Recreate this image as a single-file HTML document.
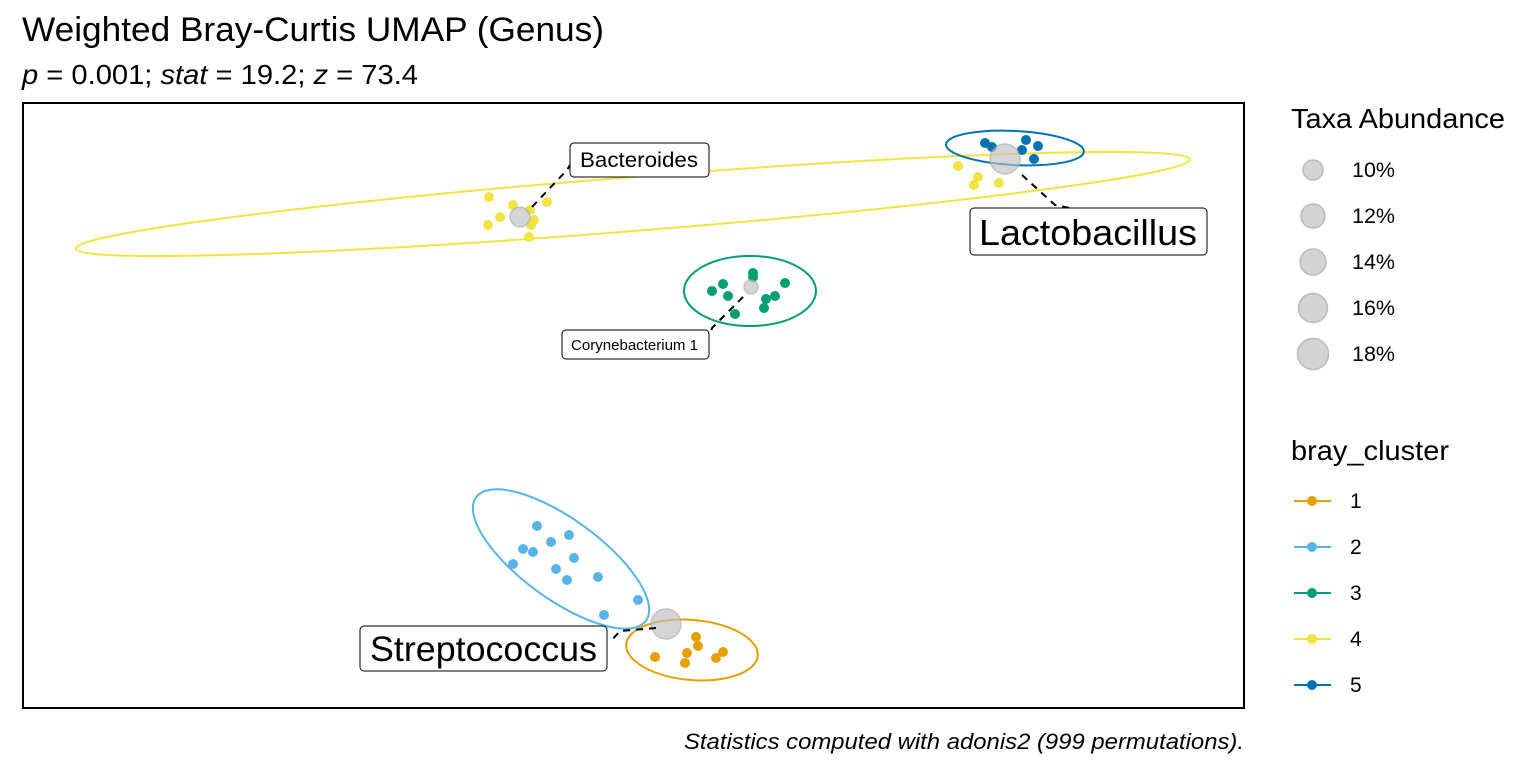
<!DOCTYPE html>
<html><head><meta charset="utf-8"><style>body{margin:0;background:#fff}svg{display:block}text{font-family:"Liberation Sans",Arial,sans-serif}</style></head>
<body>
<svg width="1536" height="768" viewBox="0 0 1536 768" xmlns="http://www.w3.org/2000/svg">
<text x="22" y="41" font-size="34" textLength="582" lengthAdjust="spacingAndGlyphs">Weighted Bray-Curtis UMAP (Genus)</text>
<text x="22" y="84" font-size="28" textLength="396" lengthAdjust="spacingAndGlyphs"><tspan font-style="italic">p</tspan> = 0.001; <tspan font-style="italic">stat</tspan> = 19.2; <tspan font-style="italic">z</tspan> = 73.4</text>
<rect x="23" y="103" width="1221" height="605" fill="#fff" stroke="#000" stroke-width="2"/>
<g fill="none" stroke-width="2">
<ellipse cx="633" cy="204" rx="559" ry="27" transform="rotate(-4.57 633 204)" stroke="#F0E442"/>
<ellipse cx="1015" cy="148" rx="69" ry="17" transform="rotate(3 1015 148)" stroke="#0072B2"/>
<ellipse cx="750" cy="291" rx="66" ry="35" stroke="#009E73"/>
<ellipse cx="561" cy="559" rx="105" ry="40" transform="rotate(36 561 559)" stroke="#56B4E9"/>
<ellipse cx="692" cy="650" rx="66" ry="30" transform="rotate(5 692 650)" stroke="#E69F00"/>
</g>
<g fill="#F0E442">
<circle cx="489" cy="197" r="5"/><circle cx="500" cy="217" r="5"/><circle cx="488" cy="225" r="5"/><circle cx="513" cy="205" r="5"/><circle cx="530" cy="210" r="5"/><circle cx="534" cy="220" r="5"/><circle cx="529" cy="237" r="5"/><circle cx="547" cy="202" r="5"/><circle cx="531" cy="225" r="5"/>
<circle cx="958" cy="166" r="5"/><circle cx="978" cy="177" r="5"/><circle cx="974" cy="185" r="5"/><circle cx="999" cy="183" r="5"/>
</g>
<g fill="#009E73">
<circle cx="712" cy="291" r="5"/><circle cx="723" cy="284" r="5"/><circle cx="728" cy="296" r="5"/><circle cx="735" cy="314" r="5"/><circle cx="753" cy="273" r="5"/><circle cx="753" cy="277" r="5"/><circle cx="785" cy="283" r="5"/><circle cx="775" cy="296" r="5"/><circle cx="766" cy="299" r="5"/><circle cx="764" cy="308" r="5"/>
</g>
<g fill="#0072B2">
<circle cx="985" cy="143" r="5"/><circle cx="992" cy="147" r="5"/><circle cx="1026" cy="140" r="5"/><circle cx="1038" cy="146" r="5"/><circle cx="1022" cy="150" r="5"/><circle cx="1034" cy="159" r="5"/>
</g>
<g fill="#56B4E9">
<circle cx="537" cy="526" r="5"/><circle cx="569" cy="535" r="5"/><circle cx="551" cy="542" r="5"/><circle cx="523" cy="549" r="5"/><circle cx="533" cy="552" r="5"/><circle cx="574" cy="558" r="5"/><circle cx="513" cy="564" r="5"/><circle cx="556" cy="569" r="5"/><circle cx="567" cy="580" r="5"/><circle cx="598" cy="577" r="5"/><circle cx="638" cy="600" r="5"/><circle cx="604" cy="615" r="5"/>
</g>
<g fill="#E69F00">
<circle cx="696" cy="637" r="5"/><circle cx="698" cy="646" r="5"/><circle cx="687" cy="653" r="5"/><circle cx="655" cy="657" r="5"/><circle cx="685" cy="663" r="5"/><circle cx="723" cy="652" r="5"/><circle cx="716" cy="658" r="5"/>
</g>
<g fill="#bfbfbf" fill-opacity="0.65" stroke="#aaa" stroke-opacity="0.6" stroke-width="1.5">
<circle cx="520" cy="217" r="10"/><circle cx="751" cy="287" r="7"/><circle cx="1005" cy="159" r="15"/><circle cx="666" cy="624" r="15"/>
</g>
<g stroke="#000" stroke-width="2" fill="none" stroke-dasharray="7,6">
<path d="M532 207 L567 170 L570 165"/>
<path d="M743 297 L712 328 L710 335"/>
<path d="M1022 175 L1055 205 L1070 208"/>
<path d="M656 628 L620 631 L610 642"/>
</g>
<g fill="#fff" stroke="#000" stroke-width="1">
<rect x="570" y="143" width="139" height="34" rx="4"/>
<rect x="970" y="208" width="237" height="47" rx="4"/>
<rect x="562" y="330" width="147" height="29" rx="4"/>
<rect x="360" y="626" width="247" height="45" rx="4"/>
</g>
<text x="580" y="167" font-size="21" textLength="118" lengthAdjust="spacingAndGlyphs">Bacteroides</text>
<text x="979" y="245" font-size="36" textLength="218" lengthAdjust="spacingAndGlyphs">Lactobacillus</text>
<text x="571" y="350" font-size="15" textLength="127" lengthAdjust="spacingAndGlyphs">Corynebacterium 1</text>
<text x="370" y="661" font-size="35" textLength="227" lengthAdjust="spacingAndGlyphs">Streptococcus</text>
<text x="1291" y="128" font-size="28" textLength="214" lengthAdjust="spacingAndGlyphs">Taxa Abundance</text>
<g fill="#d3d3d3" stroke="#bbb" stroke-width="1.5">
<circle cx="1313" cy="170" r="10"/><circle cx="1313" cy="216" r="12"/><circle cx="1313" cy="262" r="13"/><circle cx="1313" cy="308" r="14.5"/><circle cx="1313" cy="354" r="15.5"/>
</g>
<g font-size="21">
<text x="1352" y="177" textLength="43" lengthAdjust="spacingAndGlyphs">10%</text><text x="1352" y="223" textLength="43" lengthAdjust="spacingAndGlyphs">12%</text><text x="1352" y="269" textLength="43" lengthAdjust="spacingAndGlyphs">14%</text><text x="1352" y="315" textLength="43" lengthAdjust="spacingAndGlyphs">16%</text><text x="1352" y="361" textLength="43" lengthAdjust="spacingAndGlyphs">18%</text>
</g>
<text x="1291" y="460" font-size="28" textLength="158" lengthAdjust="spacingAndGlyphs">bray_cluster</text>
<g stroke-width="2">
<line x1="1294" y1="501" x2="1331" y2="501" stroke="#E69F00"/><circle cx="1312" cy="501" r="5" fill="#E69F00"/>
<line x1="1294" y1="547" x2="1331" y2="547" stroke="#56B4E9"/><circle cx="1312" cy="547" r="5" fill="#56B4E9"/>
<line x1="1294" y1="593" x2="1331" y2="593" stroke="#009E73"/><circle cx="1312" cy="593" r="5" fill="#009E73"/>
<line x1="1294" y1="639" x2="1331" y2="639" stroke="#F0E442"/><circle cx="1312" cy="639" r="5" fill="#F0E442"/>
<line x1="1294" y1="685" x2="1331" y2="685" stroke="#0072B2"/><circle cx="1312" cy="685" r="5" fill="#0072B2"/>
</g>
<g font-size="21">
<text x="1350" y="508">1</text><text x="1350" y="554">2</text><text x="1350" y="600">3</text><text x="1350" y="646">4</text><text x="1350" y="692">5</text>
</g>
<text x="684" y="749" font-size="22" font-style="italic" textLength="560" lengthAdjust="spacingAndGlyphs">Statistics computed with adonis2 (999 permutations).</text>
</svg>
</body></html>
